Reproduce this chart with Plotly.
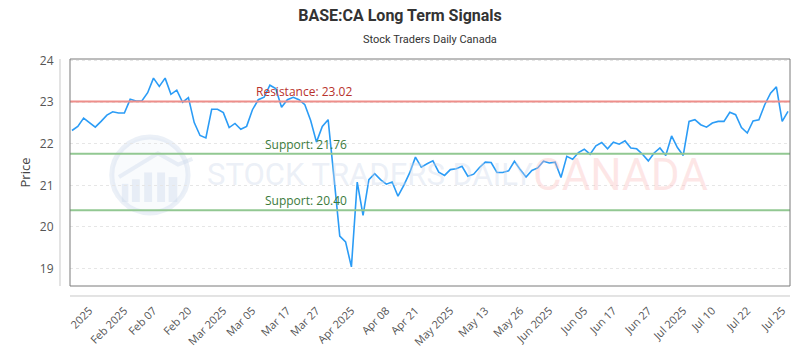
import plotly.graph_objects as go

prices = [
    22.32, 22.42, 22.62, 22.51, 22.40, 22.54, 22.69, 22.77, 22.74, 22.74,
    23.07, 23.03, 23.03, 23.23, 23.58, 23.38, 23.58, 23.19, 23.29, 23.00,
    23.11, 22.51, 22.20, 22.14, 22.83, 22.83, 22.75, 22.39, 22.49, 22.35,
    22.42, 22.82, 23.06, 23.12, 23.41, 23.33, 22.88, 23.06, 23.12, 23.06,
    22.94, 22.56, 22.04, 22.42, 22.58, 21.20, 19.78, 19.64, 19.04, 21.08,
    20.28, 21.14, 21.28, 21.14, 21.03, 21.08, 20.74, 21.00, 21.30, 21.68,
    21.44, 21.52, 21.59, 21.32, 21.24, 21.38, 21.40, 21.46, 21.22, 21.27,
    21.43, 21.56, 21.55, 21.31, 21.31, 21.35, 21.58, 21.38, 21.20, 21.36,
    21.42, 21.58, 21.54, 21.56, 21.19, 21.70, 21.63, 21.79, 21.87, 21.75,
    21.95, 22.03, 21.88, 22.04, 21.99, 22.07, 21.90, 21.88, 21.75, 21.59,
    21.78, 21.90, 21.72, 22.19, 21.91, 21.72, 22.54, 22.58, 22.46, 22.40,
    22.50, 22.54, 22.54, 22.76, 22.70, 22.39, 22.26, 22.55, 22.58, 22.94,
    23.22, 23.37, 22.54, 22.78,
]
point_index = list(range(len(prices)))

tick_labels = ["2025", "Feb 2025", "Feb 07", "Feb 20", "Mar 2025", "Mar 05",
               "Mar 17", "Mar 27", "Apr 2025", "Apr 08", "Apr 21", "May 2025",
               "May 13", "May 26", "Jun 2025", "Jun 05", "Jun 17", "Jun 27",
               "Jul 2025", "Jul 10", "Jul 22", "Jul 25"]
tick_index = [3, 9, 14, 20, 26, 31, 37, 42, 48, 54, 59, 65, 71, 77, 82, 88,
              93, 99, 105, 110, 116, 122]

resistance = 23.02
supports = [21.76, 20.40]

title_text = "BASE:CA Long Term Signals"
subtitle_text = "Stock Traders Daily Canada"

fig = go.Figure()

fig.add_trace(go.Scatter(
    x=point_index, y=prices, mode="lines",
    line=dict(color="#2b9cf6", width=1.6),
    hoverinfo="y", showlegend=False,
))

# watermark (faint logo + text)
wm = "rgba(205,218,236,0.40)"
fig.add_shape(type="circle", xref="paper", yref="paper",
              x0=0.058, x1=0.164, y0=0.322, y1=0.656,
              line=dict(color=wm, width=5), fillcolor="rgba(228,236,246,0.22)",
              layer="below")
for bx0, bx1, btop in [(0.072, 0.081, 0.45), (0.086, 0.097, 0.47),
                       (0.103, 0.114, 0.50), (0.121, 0.132, 0.50),
                       (0.137, 0.149, 0.48)]:
    fig.add_shape(type="rect", xref="paper", yref="paper",
                  x0=bx0, x1=bx1, y0=0.37, y1=btop,
                  line=dict(width=0), fillcolor=wm, layer="below")
fig.add_shape(type="path", xref="paper", yref="paper",
              path="M 0.068,0.48 L 0.122,0.585 L 0.150,0.535 L 0.170,0.56",
              line=dict(color=wm, width=4), layer="below")
fig.add_annotation(text="STOCK TRADERS DAILY", xref="paper", yref="paper",
                   x=0.188, y=0.49, xanchor="left", yanchor="middle",
                   showarrow=False,
                   font=dict(family="Roboto", size=31,
                             color="rgba(205,216,234,0.40)"))
fig.add_annotation(text="CANADA", xref="paper", yref="paper",
                   x=0.765, y=0.49, xanchor="center", yanchor="middle",
                   showarrow=False,
                   font=dict(family="Roboto", size=44,
                             color="rgba(250,185,185,0.35)"))

# resistance / support lines
fig.add_shape(type="line", xref="paper", yref="y", x0=0, x1=1,
              y0=resistance, y1=resistance,
              line=dict(color="#ee8e8a", width=2))
fig.add_annotation(text=f"Resistance: {resistance:.2f}", xref="paper", yref="y",
                   x=0.325, y=resistance, yanchor="bottom", xanchor="center",
                   yshift=-1, showarrow=False,
                   font=dict(family="Open Sans", size=12, color="#b8322c"))
for s in supports:
    fig.add_shape(type="line", xref="paper", yref="y", x0=0, x1=1,
                  y0=s, y1=s, line=dict(color="#92c892", width=2))
    fig.add_annotation(text=f"Support: {s:.2f}", xref="paper", yref="y",
                       x=0.328, y=s, yanchor="bottom", xanchor="center",
                       yshift=-1, showarrow=False,
                       font=dict(family="Open Sans", size=12, color="#3b7a3b"))

# frame and detached axis lines
fig.add_shape(type="rect", xref="paper", yref="paper", x0=0, x1=1, y0=0, y1=1,
              line=dict(color="#7a7a7a", width=1))
fig.add_shape(type="line", xref="paper", yref="paper", x0=-0.0139, x1=-0.0139,
              y0=0, y1=1, line=dict(color="#c8c8c8", width=1))
fig.add_shape(type="line", xref="paper", yref="paper", x0=0, x1=1,
              y0=-0.044, y1=-0.044, line=dict(color="#c8c8c8", width=1))

fig.add_annotation(text=subtitle_text, xref="paper", yref="paper",
                   x=0.5, y=1.084, xanchor="center", yanchor="middle",
                   showarrow=False,
                   font=dict(family="Roboto", size=11, color="#333333"))

fig.update_layout(
    width=800, height=350,
    margin=dict(l=70, r=10, t=59, b=64, autoexpand=False),
    paper_bgcolor="white", plot_bgcolor="white",
    title=dict(text=f"<b>{title_text}</b>", x=0.5, xanchor="center",
               y=0.957, yanchor="middle",
               font=dict(family="Roboto", size=16, color="#333333")),
    xaxis=dict(range=[-0.34, 123.34], tickmode="array", tickvals=tick_index,
               ticktext=tick_labels, tickangle=-45, showgrid=False,
               zeroline=False, showline=False, ticks="outside", ticklen=13,
               tickcolor="rgba(0,0,0,0)", automargin=False,
               tickfont=dict(family="Open Sans", size=11, color="#555555")),
    yaxis=dict(range=[18.58, 24.04], tickmode="array",
               tickvals=[19, 20, 21, 22, 23, 24], showgrid=True,
               gridcolor="#e6e6e6", griddash="3px,3px", gridwidth=1,
               zeroline=False, showline=False, ticks="outside", ticklen=13,
               tickcolor="rgba(0,0,0,0)", automargin=False,
               tickfont=dict(family="Open Sans", size=12, color="#555555"),
               title=dict(text="Price", standoff=6,
                          font=dict(family="Open Sans", size=13, color="#444444"))),
)

fig.write_html("out.html", config={"displayModeBar": False},
               post_script="document.body.style.margin='0px';"
                           "document.body.style.overflow='hidden';")
